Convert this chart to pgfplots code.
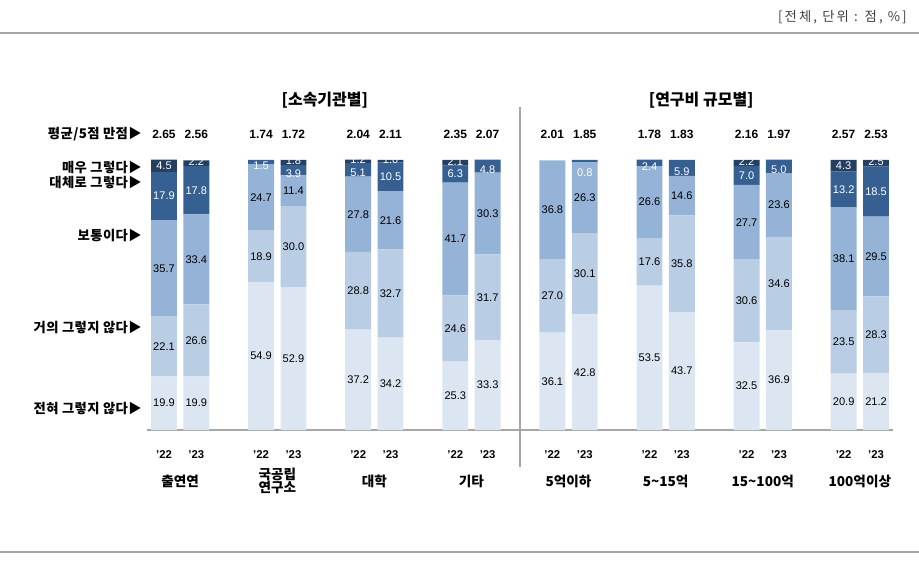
\documentclass[border=0pt]{standalone}
\usepackage{pgfplots}
\pgfplotsset{compat=1.18}
\usepackage{pgfplotstable}
\usepackage{fontspec}
\setmainfont{Liberation Sans}
\newfontfamily\kr{Noto Sans CJK KR}
\definecolor{cA}{HTML}{DCE6F2}
\definecolor{cB}{HTML}{B9CDE5}
\definecolor{cC}{HTML}{95B3D7}
\definecolor{cD}{HTML}{376092}
\definecolor{cE}{HTML}{243F60}
\definecolor{lineg}{HTML}{A6A6A6}

\pgfplotstableread{
x a b c d e
0 19.9 22.1 35.7 17.9 4.5
1 19.9 26.6 33.4 17.8 2.2
3 54.9 18.9 24.7 1.5 0
4 52.9 30.0 11.4 3.9 1.8
6 37.2 28.8 27.8 5.1 1.2
7 34.2 32.7 21.6 10.5 1.0
9 25.3 24.6 41.7 6.3 2.1
10 33.3 31.7 30.3 4.8 0
12 36.1 27.0 36.8 0 0
13 42.8 30.1 26.3 0.8 0
15 53.5 17.6 26.6 2.4 0
16 43.7 35.8 14.6 5.9 0
18 32.5 30.6 27.7 7.0 2.2
19 36.9 34.6 23.6 5.0 0
21 20.9 23.5 38.1 13.2 4.3
22 21.2 28.3 29.5 18.5 2.5
}\data

\pgfplotsset{
  base/.style={at={(0,0)}, anchor=south west, scale only axis,
    width=559.5pt, height=202.5pt, xmin=-0.525, xmax=22.525,
    ymin=0, ymax=100, clip=false, xtick=\empty, ytick=\empty},
}
\newcommand\lft[2]{\node[anchor=east, inner sep=0pt, font=\kr\bfseries\fontsize{10}{12}\selectfont\addfontfeature{LetterSpace=3}] at ([xshift=-3.75pt]axis cs:-0.525,#1) {#2};}
\newcommand\grp[2]{\node[anchor=center, align=center, inner sep=0pt, font=\kr\bfseries\fontsize{10.2}{12}\selectfont] at (axis cs:#1,-18.9) {#2};}

\begin{document}
\begin{tikzpicture}
\useasboundingbox (-110.25pt,-97.5pt) rectangle (579pt,322.5pt);
\begin{axis}[base, ybar stacked, bar width=0.8,
  axis x line=bottom, axis y line=none,
  x axis line style={-, draw=lineg, line width=0.8pt},
  /pgf/number format/assume math mode=true,
  nodes near coords={\ifdim\rawy pt>0pt\pgfmathprintnumber[fixed,fixed zerofill,precision=1,assume math mode=true]{\rawy}\fi},
  every node near coord/.append style={anchor=center,
     font=\fontsize{8.3}{10}\selectfont, inner sep=0pt, text=black},
]
\addplot[fill=cA, draw=none, visualization depends on={\thisrow{a}\as\rawy}] table[x=x,y=a]{\data};
\addplot[fill=cB, draw=none, visualization depends on={\thisrow{b}\as\rawy}] table[x=x,y=b]{\data};
\addplot[fill=cC, draw=none, visualization depends on={\thisrow{c}\as\rawy}] table[x=x,y=c]{\data};
\addplot[fill=cD, draw=none, visualization depends on={\thisrow{d}\as\rawy},
  every node near coord/.append style={text=white,
    yshift={ifthenelse(\rawy<1,-9,ifthenelse(\rawy<6,-2.5,0))*1pt}}] table[x=x,y=d]{\data};
\addplot[fill=cE, draw=none, visualization depends on={\thisrow{e}\as\rawy},
  every node near coord/.append style={text=white,
    yshift={ifthenelse(\rawy<3,1,0)*1pt}}] table[x=x,y=e]{\data};
\end{axis}

\begin{axis}[base, axis lines=none]
\addplot[draw=none, mark=none, nodes near coords, point meta=explicit symbolic,
  every node near coord/.append style={anchor=center, inner sep=0pt, font=\bfseries\fontsize{9}{11}\selectfont}]
  coordinates {(0,109.6)[2.65] (1,109.6)[2.56] (3,109.6)[1.74] (4,109.6)[1.72]
  (6,109.6)[2.04] (7,109.6)[2.11] (9,109.6)[2.35] (10,109.6)[2.07]
  (12,109.6)[2.01] (13,109.6)[1.85] (15,109.6)[1.78] (16,109.6)[1.83]
  (18,109.6)[2.16] (19,109.6)[1.97] (21,109.6)[2.57] (22,109.6)[2.53]};
\addplot[draw=none, mark=none, nodes near coords, point meta=explicit symbolic,
  every node near coord/.append style={anchor=center, inner sep=0pt, font=\bfseries\fontsize{8.5}{10}\selectfont}]
  coordinates {(0,-9.26)[’22] (1,-9.26)[’23] (3,-9.26)[’22] (4,-9.26)[’23]
  (6,-9.26)[’22] (7,-9.26)[’23] (9,-9.26)[’22] (10,-9.26)[’23]
  (12,-9.26)[’22] (13,-9.26)[’23] (15,-9.26)[’22] (16,-9.26)[’23]
  (18,-9.26)[’22] (19,-9.26)[’23] (21,-9.26)[’22] (22,-9.26)[’23]};
\lft{109.6}{평균/5점 만점▶}
\lft{97.4}{매우 그렇다▶}
\lft{91.5}{대체로 그렇다▶}
\lft{71.9}{보통이다▶}
\lft{37.8}{거의 그렇지 않다▶}
\lft{8.1}{전혀 그렇지 않다▶}
\grp{0.5}{출연연}
\grp{3.5}{국공립\\[-2pt]연구소}
\grp{6.5}{대학}
\grp{9.5}{기타}
\grp{12.5}{5억이하}
\grp{15.5}{5\char"007E 15억}
\grp{18.5}{15\char"007E 100억}
\grp{21.5}{100억이상}
\node[anchor=center, font=\kr\bfseries\fontsize{12}{14}\selectfont] at (axis cs:4.97,122.2) {[소속기관별]};
\node[anchor=center, font=\kr\bfseries\fontsize{12}{14}\selectfont] at (axis cs:16.6,122.2) {[연구비 규모별]};
\draw[lineg, line width=1.5pt] (axis cs:11,119.6) -- (axis cs:11,-13.7);
\end{axis}
\draw[lineg, line width=0.9pt] (-110.25pt,297.75pt) -- (579pt,297.75pt);
\draw[lineg, line width=0.9pt] (-110.25pt,-91.5pt) -- (579pt,-91.5pt);
\node[anchor=east, inner sep=0pt, text=black!75, font=\kr\fontsize{10}{12}\selectfont\addfontfeature{LetterSpace=16}] at (570pt,309.75pt) {[전체, 단위 : 점, \%]};
\end{tikzpicture}
\end{document}
